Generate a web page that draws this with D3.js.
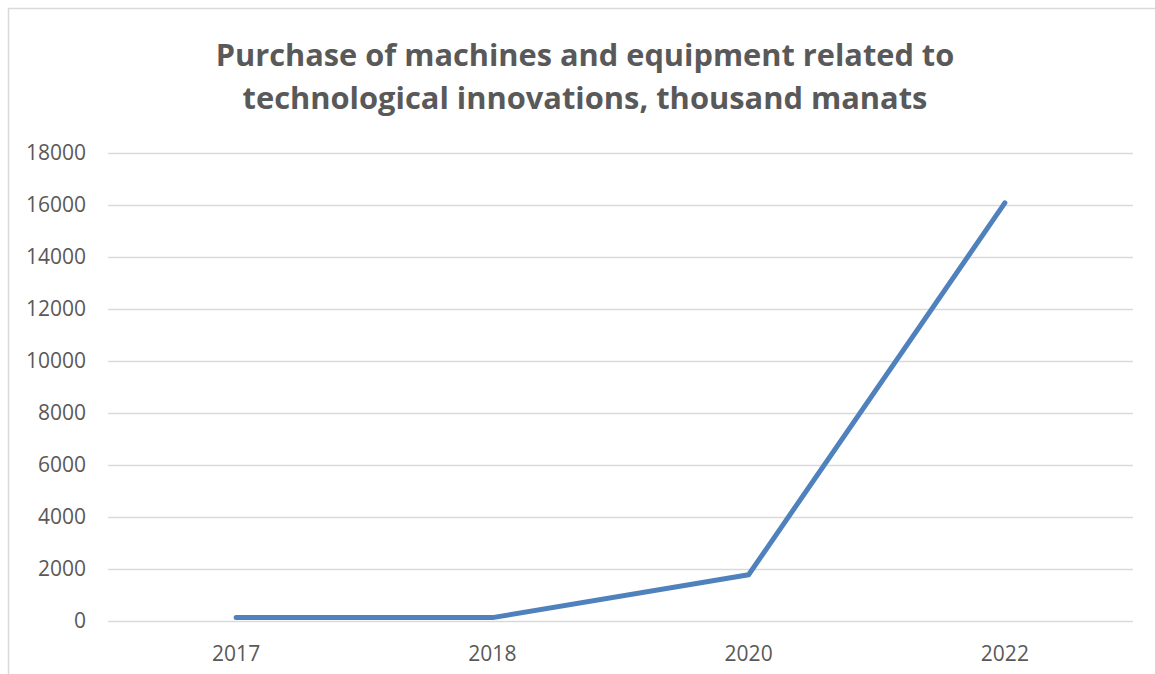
<!DOCTYPE html>
<html>
<head>
<meta charset="utf-8">
<script src="https://cdn.jsdelivr.net/npm/d3@7"></script>
<style>
  html, body { margin: 0; padding: 0; background: #fff; }
  svg { display: block; }
</style>
</head>
<body>
<svg id="chart" width="1155" height="674"></svg>
<script>
const titleLines = ["Purchase of machines and equipment related to", "technological innovations, thousand manats"];
const categories = ["2017", "2018", "2020", "2022"];
const values = [130, 130, 1780, 16080];
const yTicks = [0, 2000, 4000, 6000, 8000, 10000, 12000, 14000, 16000, 18000];

const svg = d3.select("#chart");
const W = 1155, H = 674;
const plot = { left: 108, right: 1133, top: 153, bottom: 621 };
const textColor = "#595959";
const fontFam = "'Open Sans', Lato, 'Liberation Sans', sans-serif";

svg.append("rect").attr("width", W).attr("height", H).attr("fill", "#fff");
svg.append("rect")
  .attr("x", 8.5).attr("y", 8.5).attr("width", W + 20).attr("height", H + 20)
  .attr("fill", "none").attr("stroke", "#d9d9d9").attr("stroke-width", 1.5);

const x = d3.scaleBand().domain(categories).range([plot.left, plot.right]);
const y = d3.scaleLinear().domain([0, 18000]).range([plot.bottom, plot.top]);

const yAxis = d3.axisLeft(y).tickValues(yTicks).tickSize(-(plot.right - plot.left)).tickPadding(22).tickFormat(d3.format("d"));
const gy = svg.append("g").attr("transform", `translate(${plot.left},0)`).call(yAxis);
gy.select(".domain").remove();
gy.selectAll(".tick line").attr("stroke", "#d9d9d9").attr("stroke-width", 1.3);
gy.selectAll(".tick text").attr("fill", textColor).attr("font-family", fontFam).attr("font-size", 21);

const xAxis = d3.axisBottom(x).tickSize(0).tickPadding(25);
const gx = svg.append("g").attr("transform", `translate(0,${plot.bottom})`).call(xAxis);
gx.select(".domain").remove();
gx.selectAll(".tick text").attr("fill", textColor).attr("font-family", fontFam).attr("font-size", 21);

const line = d3.line()
  .x((d, i) => x(categories[i]) + x.bandwidth() / 2)
  .y(d => y(d));
svg.append("path").datum(values)
  .attr("d", line)
  .attr("fill", "none")
  .attr("stroke", "#4f81bd")
  .attr("stroke-width", 5)
  .attr("stroke-linecap", "round")
  .attr("stroke-linejoin", "round");

const targetWidths = [739, 685];
const baselines = [66, 109];
titleLines.forEach((t, i) => {
  const txt = svg.append("text")
    .attr("x", 585).attr("y", baselines[i])
    .attr("text-anchor", "middle")
    .attr("font-family", fontFam)
    .attr("font-weight", "bold")
    .attr("font-size", 30)
    .attr("fill", textColor)
    .text(t);
  const w = txt.node().getComputedTextLength();
  if (w > 0) txt.attr("font-size", 30 * targetWidths[i] / w);
});
</script>
</body>
</html>
